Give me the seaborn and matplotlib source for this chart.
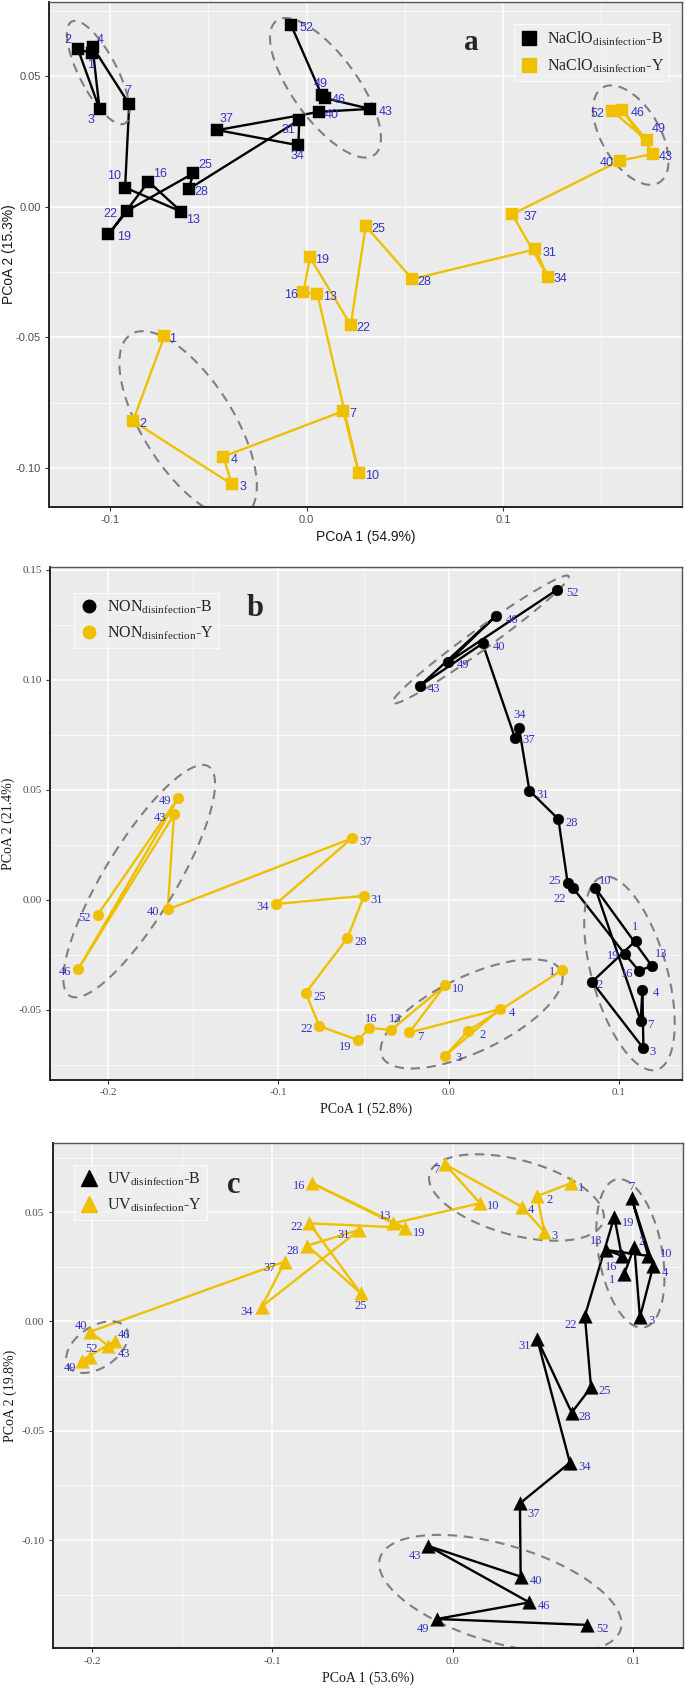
import numpy as np
import pandas as pd
import matplotlib
matplotlib.use("Agg")
import matplotlib.pyplot as plt
import seaborn as sns
from matplotlib.lines import Line2D

# ---------------- data ----------------
days = [1, 2, 3, 4, 7, 10, 13, 16, 19, 22, 25, 28, 31, 34, 37, 40, 43, 46, 49, 52]

# panel a: NaClO disinfection
a_B_x = [-0.1093, -0.1164, -0.1054, -0.1090, -0.0903, -0.0924, -0.0638, -0.0805, -0.1009, -0.0912,
         -0.0576, -0.0601, -0.0037, -0.0042, -0.0454, 0.0065, 0.0324, 0.0094, 0.0077, -0.0079]
a_B_y = [0.0587, 0.0602, 0.0373, 0.0612, 0.0392, 0.0073, -0.0019, 0.0096, -0.0106, -0.0015,
         0.0128, 0.0067, 0.0332, 0.0235, 0.0293, 0.0363, 0.0374, 0.0415, 0.0427, 0.0695]
a_Y_x = [-0.0724, -0.0884, -0.0381, -0.0424, 0.0187, 0.0266, 0.0055, -0.0016, 0.0017, 0.0225,
         0.0301, 0.0538, 0.1165, 0.1228, 0.1047, 0.1595, 0.1765, 0.1607, 0.1731, 0.1556]
a_Y_y = [-0.0495, -0.0820, -0.1062, -0.0956, -0.0782, -0.1020, -0.0334, -0.0328, -0.0194, -0.0453,
         -0.0074, -0.0277, -0.0163, -0.0268, -0.0029, 0.0176, 0.0202, 0.0370, 0.0255, 0.0366]

# panel b: no disinfection
b_B_x = [0.1100, 0.0843, 0.1145, 0.1139, 0.1129, 0.0861, 0.1194, 0.1119, 0.1037, 0.0733,
         0.0700, 0.0645, 0.0475, 0.0414, 0.0390, 0.0200, -0.0168, 0.0277, -0.0005, 0.0635]
b_B_y = [-0.0187, -0.0374, -0.0676, -0.0411, -0.0551, 0.0054, -0.0301, -0.0324, -0.0249, 0.0051,
         0.0074, 0.0366, 0.0495, 0.0781, 0.0735, 0.1164, 0.0972, 0.1289, 0.1078, 0.1407]
b_Y_x = [0.0668, 0.0116, -0.0021, 0.0302, -0.0231, -0.0021, -0.0339, -0.0466, -0.0531, -0.0760,
         -0.0840, -0.0596, -0.0497, -0.1015, -0.0570, -0.1651, -0.1614, -0.2177, -0.1589, -0.2063]
b_Y_y = [-0.0320, -0.0596, -0.0710, -0.0498, -0.0604, -0.0389, -0.0593, -0.0583, -0.0639, -0.0575,
         -0.0424, -0.0176, 0.0017, -0.0020, 0.0278, -0.0045, 0.0387, -0.0316, 0.0463, -0.0070]

# panel c: UV disinfection
c_B_x = [0.0950, 0.1006, 0.1037, 0.1111, 0.0991, 0.1083, 0.0849, 0.0936, 0.0895, 0.0732,
         0.0766, 0.0659, 0.0468, 0.0649, 0.0372, 0.0376, -0.0139, 0.0424, -0.0089, 0.0745]
c_B_y = [0.0217, 0.0342, 0.0019, 0.0255, 0.0564, 0.0300, 0.0327, 0.0301, 0.0479, 0.0025,
         -0.0301, -0.0417, -0.0081, -0.0646, -0.0832, -0.1167, -0.1026, -0.1285, -0.1361, -0.1388]
c_Y_x = [0.0653, 0.0468, 0.0507, 0.0382, -0.0043, 0.0151, -0.0330, -0.0778, -0.0265, -0.0795,
         -0.0510, -0.0806, -0.0518, -0.1059, -0.0930, -0.2010, -0.1908, -0.1871, -0.2056, -0.2010]
c_Y_y = [0.0632, 0.0574, 0.0411, 0.0525, 0.0719, 0.0541, 0.0449, 0.0632, 0.0429, 0.0449,
         0.0129, 0.0347, 0.0419, 0.0068, 0.0274, -0.0047, -0.0112, -0.0088, -0.0179, -0.0161]

# cluster memberships for the dashed ellipses
early_short = [1, 2, 3, 4]
early_a = [1, 2, 3, 4, 7]
early_mid = [1, 2, 3, 4, 7, 10]
early_long = [1, 2, 3, 4, 7, 10, 13, 16, 19]
late = [40, 43, 46, 49, 52]

# ---------------- label offsets (pixels: right, down) ----------------
off_aB = {1: (-1, 12), 2: (-10, -9), 3: (-9, 11), 4: (8, -7), 7: (-1, -13), 10: (-11, -12), 13: (12, 8),
          16: (12, -8), 19: (16, 3), 22: (-17, 3), 25: (12, -8), 28: (13, 3), 31: (-11, 10), 34: (-1, 11),
          37: (9, -11), 40: (12, 3), 43: (15, 3), 46: (14, 2), 49: (-1, -11), 52: (15, 3)}
off_aY = {1: (8, 3), 2: (10, 3), 3: (11, 3), 4: (11, 3), 7: (10, 3), 10: (13, 3), 13: (13, 3), 16: (-12, 3),
          19: (12, 3), 22: (13, 3), 25: (13, 3), 28: (12, 3), 31: (14, 4), 34: (13, 2), 37: (18, 3),
          40: (-13, 2), 43: (12, 3), 46: (15, 3), 49: (12, -11), 52: (-15, 3)}
off_bB = {1: (-1, -14), 2: (8, 3), 3: (9, 4), 4: (13, 3), 7: (10, 4), 10: (10, -7), 13: (9, -12), 16: (-12, 3),
          19: (-12, 2), 22: (-14, 11), 25: (-13, -2), 28: (13, 4), 31: (13, 4), 34: (1, -13), 37: (14, 2),
          40: (16, 4), 43: (14, 3), 46: (16, 4), 49: (15, 3), 52: (16, 3)}
off_bY = {1: (-10, 2), 2: (14, 4), 3: (13, 2), 4: (12, 4), 7: (11, 5), 10: (13, 4), 13: (4, -11), 16: (2, -9),
          19: (-13, 7), 22: (-13, 3), 25: (14, 4), 28: (13, 4), 31: (13, 4), 34: (-13, 3), 37: (14, 4),
          40: (-15, 3), 43: (-14, 4), 46: (-13, 3), 49: (-13, 3), 52: (-13, 3)}
off_cB = {1: (-12, 6), 2: (7, -5), 3: (12, 4), 4: (12, 7), 7: (0, -11), 10: (18, -2), 13: (-10, -9),
          16: (-11, 11), 19: (14, 6), 22: (-14, 9), 25: (14, 4), 28: (13, 4), 31: (-13, 7), 34: (15, 4),
          37: (14, 11), 40: (15, 4), 43: (-13, 10), 46: (15, 4), 49: (-14, 10), 52: (15, 4)}
off_cY = {1: (10, 5), 2: (12, 4), 3: (10, 4), 4: (9, 3), 7: (-9, 6), 10: (13, 3), 13: (-8, -7), 16: (-13, 3),
          19: (14, 5), 22: (-13, 4), 25: (0, 13), 28: (-15, 5), 31: (-16, 5), 34: (-15, 5), 37: (-15, 6),
          40: (-9, -6), 43: (16, 8), 46: (9, -6), 49: (-12, 7), 52: (1, -8)}

# ---------------- style ----------------
BLACK = "#000000"
GOLD = "#EFC000"
LABEL_C = "#3434C2"
ELL_C = "#7F7F7F"
PANEL_BG = "#EBEBEB"
PX = 0.72  # points per pixel at dpi 100

sns.set_theme(style="darkgrid")
plt.rcParams["mathtext.fontset"] = "custom"
plt.rcParams["mathtext.rm"] = "Liberation Serif"
plt.rcParams["mathtext.it"] = "Liberation Serif:italic"
plt.rcParams["mathtext.bf"] = "Liberation Serif:bold"

fig = plt.figure(figsize=(6.85, 16.89), dpi=100)
W, H = 685.0, 1689.0


def add_ax(l, t, r, b):
    return fig.add_axes([l / W, 1 - b / H, (r - l) / W, (b - t) / H])


def style_ax(ax, xlim, ylim, xmaj, ymaj, xmin, ymin, xlab_txt, ylab_txt, fam, tfs, lfs, xpad, ylx):
    ax.set_facecolor(PANEL_BG)
    ax.set_xlim(*xlim)
    ax.set_ylim(*ylim)
    ax.set_xticks(xmaj)
    ax.set_yticks(ymaj)
    ax.set_xticks(xmin, minor=True)
    ax.set_yticks(ymin, minor=True)
    ax.grid(True, which="major", color="white", lw=1.1)
    ax.grid(True, which="minor", color="white", lw=0.5)
    ax.set_axisbelow(True)
    ax.tick_params(which="major", length=3, width=0.8, color="#333333", pad=3,
                   labelsize=tfs, labelcolor="#4D4D4D", bottom=True, left=True)
    ax.tick_params(which="minor", length=0)
    for s in ax.spines.values():
        s.set_visible(True)
        s.set_color("#555555")
        s.set_linewidth(1.0)
    ax.spines["left"].set_color("#222222")
    ax.spines["bottom"].set_color("#222222")
    ax.spines["left"].set_linewidth(1.4)
    ax.spines["bottom"].set_linewidth(1.4)
    ax.set_xlabel(xlab_txt, family=fam, fontsize=lfs, color="#1A1A1A", labelpad=xpad)
    ax.set_ylabel(ylab_txt, family=fam, fontsize=lfs, color="#1A1A1A")
    ax.yaxis.set_label_coords(ylx, 0.5)


def ellipse(ax, xs, ys, members, k):
    idx = [days.index(d) for d in members]
    px = np.array([xs[i] for i in idx])
    py = np.array([ys[i] for i in idx])
    cov = np.cov(px, py)
    vals, vecs = np.linalg.eigh(cov)
    t = np.linspace(0, 2 * np.pi, 200)
    circ = np.vstack([np.cos(t), np.sin(t)])
    pts = vecs @ (np.sqrt(vals)[:, None] * circ) * k
    ex = px.mean() + pts[0]
    ey = py.mean() + pts[1]
    ax.plot(ex, ey, color=ELL_C, lw=1.5, ls=(0, (4.5, 3.2)), zorder=2.5)


def draw_series(ax, xs, ys, color, marker, ms, offs, fam, fs):
    df = pd.DataFrame({"x": xs, "y": ys, "day": days})
    sns.lineplot(data=df, x="x", y="y", sort=False, estimator=None, color=color, lw=1.7,
                 ax=ax, zorder=2, legend=False)
    sns.scatterplot(data=df, x="x", y="y", color=color, marker=marker, s=ms, edgecolor=color,
                    linewidth=0.3, ax=ax, zorder=3, legend=False)
    for d, x, y in zip(days, xs, ys):
        dx, dy = offs.get(d, (12, 3))
        ax.annotate(str(d), (x, y), xytext=(dx * PX, -dy * PX), textcoords="offset points",
                    ha="center", va="center", color=LABEL_C, fontsize=fs, family=fam, zorder=4)


def legend(ax, marker, ms, base, anchor, fs):
    handles = [Line2D([], [], ls="none", marker=marker, markersize=ms, color=BLACK),
               Line2D([], [], ls="none", marker=marker, markersize=ms, color=GOLD)]
    labels = [base + r"$_{\mathrm{disinfection}}$-B", base + r"$_{\mathrm{disinfection}}$-Y"]
    lg = ax.legend(handles, labels, loc="upper left", bbox_to_anchor=anchor, frameon=True,
                   prop={"family": "Liberation Serif", "size": fs}, handletextpad=0.5,
                   labelspacing=0.55, borderpad=0.35, handlelength=1.2, fancybox=False)
    lg.get_frame().set_facecolor("#EFEFEF")
    lg.get_frame().set_edgecolor("white")
    lg.get_frame().set_linewidth(0.8)
    lg.set_zorder(5)


SANS = "Liberation Sans"
SERIF = "Liberation Serif"

# ---------------- panel a ----------------
axA = add_ax(49.3, 2, 681.7, 507)
style_ax(axA, (-0.131, 0.191), (-0.1149, 0.0783), [-0.1, 0.0, 0.1], [-0.10, -0.05, 0.00, 0.05],
         [-0.05, 0.05, 0.15], [-0.075, -0.025, 0.025, 0.075], "PCoA 1 (54.9%)", "PCoA 2 (15.3%)",
         SANS, 8, 10, 3, -0.053)
axA.set_xticklabels(["-0.1", "0.0", "0.1"], family=SANS)
axA.set_yticklabels(["-0.10", "-0.05", "0.00", "0.05"], family=SANS)
draw_series(axA, a_B_x, a_B_y, BLACK, "s", 75, off_aB, SANS, 9)
draw_series(axA, a_Y_x, a_Y_y, GOLD, "s", 75, off_aY, SANS, 9)
ellipse(axA, a_B_x, a_B_y, early_a, 1.65)
ellipse(axA, a_B_x, a_B_y, late, 1.95)
ellipse(axA, a_Y_x, a_Y_y, early_short, 1.45)
ellipse(axA, a_Y_x, a_Y_y, late, 2.1)
legend(axA, "s", 10, "NaClO", (0.722, 0.972), 11.5)
axA.text(0.668, 0.919, "a", transform=axA.transAxes, family=SERIF, fontweight="bold",
         fontsize=21, ha="center", va="center")

# ---------------- panel b ----------------
axB = add_ax(50, 566.7, 681.7, 1080)
style_ax(axB, (-0.2343, 0.137), (-0.082, 0.1513), [-0.2, -0.1, 0.0, 0.1],
         [-0.05, 0.00, 0.05, 0.10, 0.15], [-0.15, -0.05, 0.05], [-0.075, -0.025, 0.025, 0.075, 0.125],
         "PCoA 1 (52.8%)", "PCoA 2 (21.4%)", SERIF, 8, 10, 4, -0.055)
axB.set_xticklabels(["-0.2", "-0.1", "0.0", "0.1"], family=SERIF)
axB.set_yticklabels(["-0.05", "0.00", "0.05", "0.10", "0.15"], family=SERIF)
draw_series(axB, b_B_x, b_B_y, BLACK, "o", 60, off_bB, SERIF, 9)
draw_series(axB, b_Y_x, b_Y_y, GOLD, "o", 60, off_bY, SERIF, 9)
ellipse(axB, b_B_x, b_B_y, early_long, 2.1)
ellipse(axB, b_B_x, b_B_y, late, 1.7)
ellipse(axB, b_Y_x, b_Y_y, early_mid, 1.7)
ellipse(axB, b_Y_x, b_Y_y, late, 1.6)
legend(axB, "o", 9, "NON", (0.025, 0.964), 11.5)
axB.text(0.3245, 0.9195, "b", transform=axB.transAxes, family=SERIF, fontweight="bold",
         fontsize=22, ha="center", va="center")

# ---------------- panel c ----------------
axC = add_ax(52.7, 1143.3, 682.7, 1648.3)
style_ax(axC, (-0.2217, 0.1274), (-0.1495, 0.0815), [-0.2, -0.1, 0.0, 0.1],
         [-0.10, -0.05, 0.00, 0.05], [-0.15, -0.05, 0.05], [-0.125, -0.075, -0.025, 0.025, 0.075],
         "PCoA 1 (53.6%)", "PCoA 2 (19.8%)", SERIF, 8, 10, 4, -0.057)
axC.set_xticklabels(["-0.2", "-0.1", "0.0", "0.1"], family=SERIF)
axC.set_yticklabels(["-0.10", "-0.05", "0.00", "0.05"], family=SERIF)
draw_series(axC, c_B_x, c_B_y, BLACK, "^", 95, off_cB, SERIF, 9)
draw_series(axC, c_Y_x, c_Y_y, GOLD, "^", 95, off_cY, SERIF, 9)
ellipse(axC, c_B_x, c_B_y, early_long, 2.2)
ellipse(axC, c_B_x, c_B_y, late, 1.8)
ellipse(axC, c_Y_x, c_Y_y, early_mid, 1.9)
ellipse(axC, c_Y_x, c_Y_y, late, 2.2)
legend(axC, "^", 11, "UV", (0.021, 0.973), 11.5)
axC.text(0.2867, 0.9174, "c", transform=axC.transAxes, family=SERIF, fontweight="bold",
         fontsize=22, ha="center", va="center")

fig.savefig("out.png", dpi=100, facecolor="white")
